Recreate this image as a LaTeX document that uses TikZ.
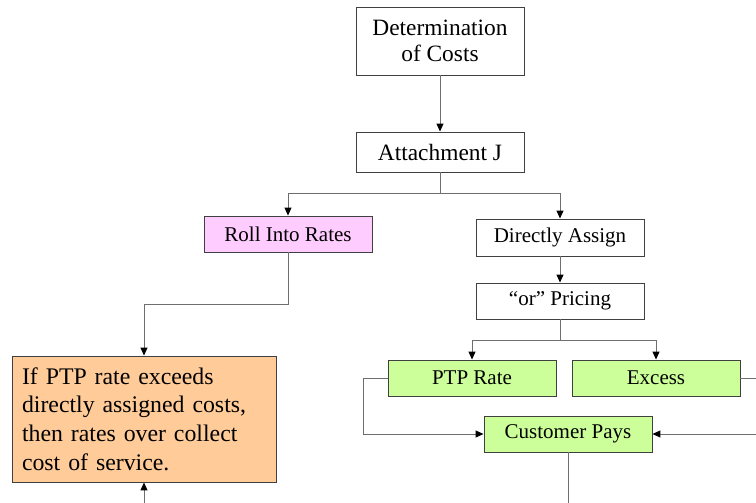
\documentclass[tikz,border=0pt]{standalone}
\usepackage{fontspec}
\setmainfont{Liberation Serif}
\usetikzlibrary{arrows.meta}
\definecolor{boxline}{HTML}{404040}
\definecolor{wireline}{HTML}{6E6E6E}
\definecolor{pinkfill}{HTML}{FFCCFF}
\definecolor{orangefill}{HTML}{FFCC99}
\definecolor{greenfill}{HTML}{CCFF99}
\tikzset{
  flowbox/.style={draw=boxline, line width=0.9pt, fill=white, inner sep=0pt,
    minimum width=168pt, minimum height=36pt, align=center,
    font=\fontsize{21}{25}\selectfont},
  bigbox/.style={flowbox, font=\fontsize{23.4}{26}\selectfont},
  wire/.style={draw=wireline, line width=1pt},
  arrowwire/.style={wire, -{Triangle[length=8pt,width=7pt,fill=black,color=black]}},
}
\begin{document}
\begin{tikzpicture}[x=1pt, y=-1pt]
\useasboundingbox (0,0) rectangle (756,503);
\clip (0,0) rectangle (756,503);

% boxes
\node[bigbox, minimum height=68pt] (det) at (440,41) {Determination\\of Costs};
\node[bigbox, minimum height=40pt] (att) at (440,152) {Attachment J};
\node[flowbox, fill=pinkfill] (roll) at (288,234) {Roll Into Rates};
\node[flowbox, minimum height=37pt] (direct) at (560,237.5) {Directly Assign};
\node[flowbox] (orp) at (560,301) {``or'' Pricing};
\node[flowbox, fill=greenfill] (ptp) at (472,378) {PTP Rate};
\node[flowbox, fill=greenfill] (excess) at (656,378) {Excess};
\node[flowbox, fill=greenfill] (cust) at (568,434) {Customer Pays};
\node[draw=boxline, line width=0.9pt, fill=orangefill, minimum width=264pt,
  minimum height=126pt, text width=244pt, inner xsep=10pt, inner ysep=0pt,
  align=left, font=\fontsize{23.8}{28.6}\selectfont] (over) at (144,419)
  {If PTP rate exceeds\\directly assigned costs,\\then rates over collect\\cost of service.};

% junction points
\coordinate (split1) at (440,193);
\coordinate (rollbend) at (288,304);
\coordinate (split2) at (560,340);
\coordinate (ptpout) at (363,378);
\coordinate (excessout) at (780,378);
\coordinate (overin) at (144,520);
\coordinate (custout) at (568,520);

% connectors
\draw[arrowwire] (det) -- (att);
\draw[wire] (att.south) -- (split1);
\draw[arrowwire] (split1) -| (roll.north);
\draw[arrowwire] (split1) -| (direct.north);
\draw[arrowwire] (roll.south) -- (rollbend) -| (over.north);
\draw[arrowwire] (overin) -- (over.south);
\draw[arrowwire] (direct) -- (orp);
\draw[wire] (orp.south) -- (split2);
\draw[arrowwire] (split2) -| (ptp.north);
\draw[arrowwire] (split2) -| (excess.north);
\draw[arrowwire] (ptp.west) -- (ptpout) |- (cust.west);
\draw[arrowwire] (excess.east) -- (excessout) |- (cust.east);
\draw[wire] (cust.south) -- (custout);
\end{tikzpicture}
\end{document}
